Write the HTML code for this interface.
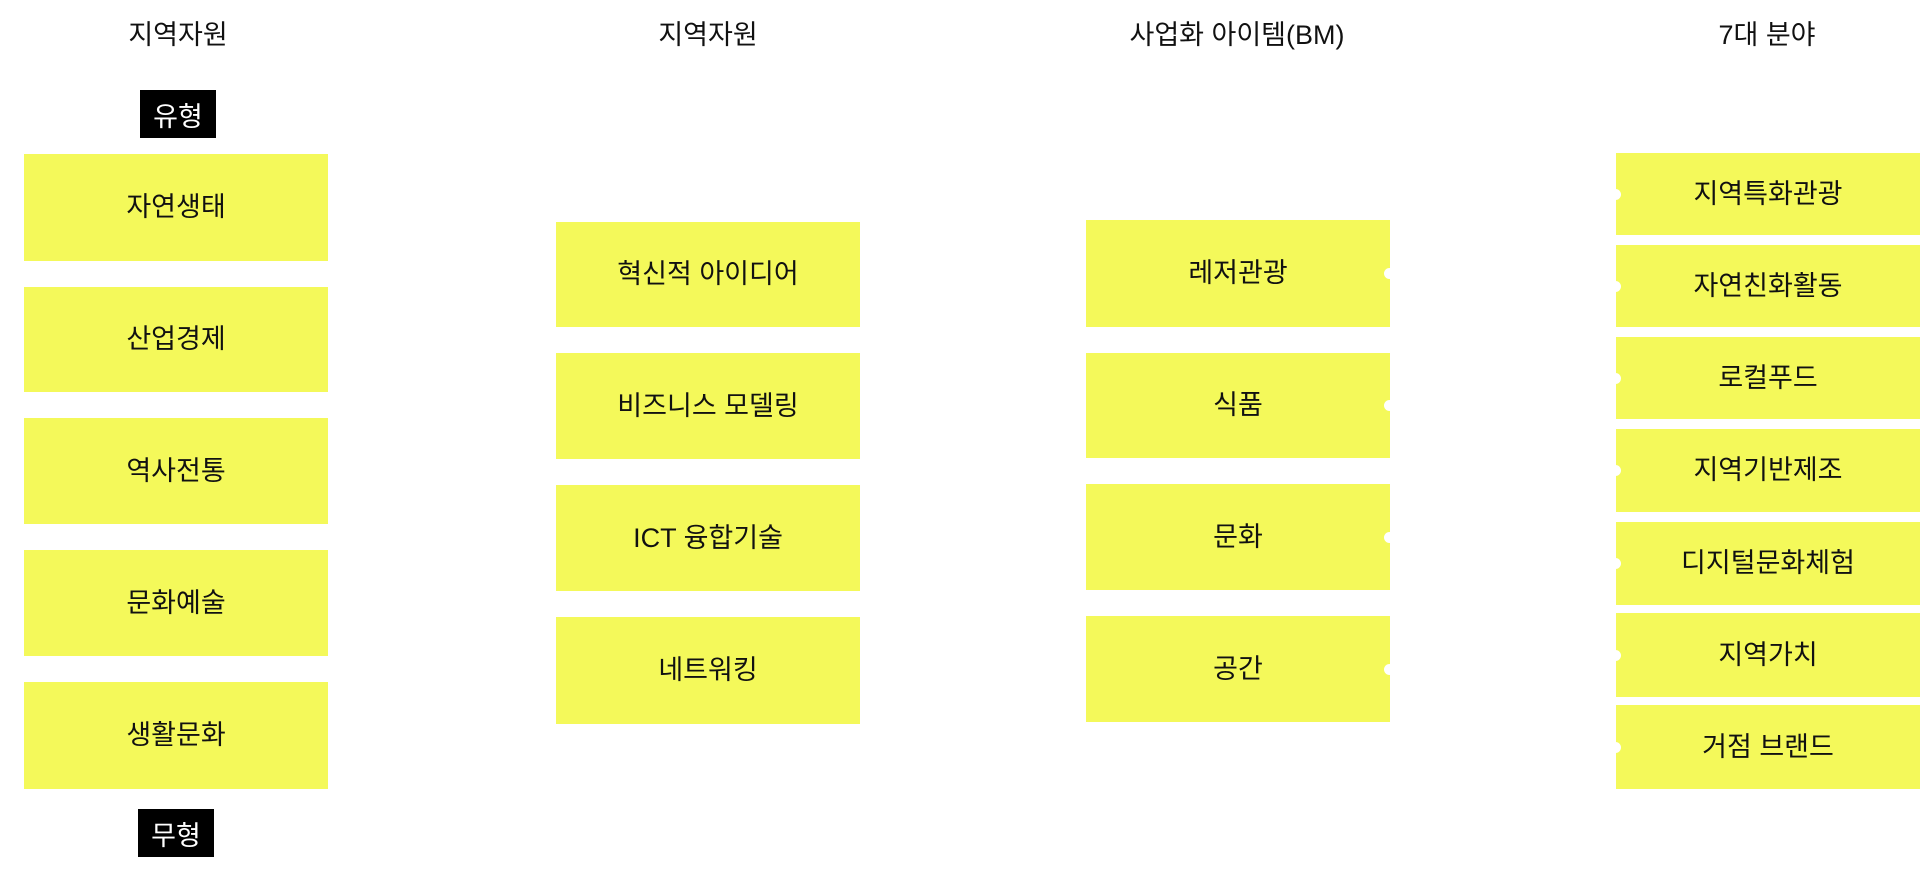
<!DOCTYPE html>
<html><head><meta charset="utf-8"><style>
body{margin:0;width:1920px;height:871px;background:#fff;position:relative;overflow:hidden;font-family:"Liberation Sans","Noto Sans CJK KR",sans-serif;font-weight:400;}
.h{position:absolute;top:13px;font-size:27px;color:#111;transform:translateX(-50%);white-space:nowrap;}
.b{position:absolute;background:#f4f95a;display:flex;align-items:center;justify-content:center;font-size:27px;color:#111;box-sizing:border-box;padding-bottom:6px;}
.k{position:absolute;background:#000;color:#fff;display:flex;align-items:center;justify-content:center;font-size:27px;}
.n{position:absolute;width:11px;height:11px;border-radius:50%;background:#fff;}
</style></head><body>
<div class="h" style="left:178px">지역자원</div>
<div class="h" style="left:708px">지역자원</div>
<div class="h" style="left:1237px">사업화 아이템(BM)</div>
<div class="h" style="left:1767px">7대 분야</div>
<div class="k" style="left:140px;top:90px;width:76px;height:48px">유형</div>
<div class="k" style="left:138px;top:809px;width:76px;height:48px">무형</div>

<div class="b" style="left:24px;top:154px;width:304px;height:107px">자연생태</div>
<div class="b" style="left:24px;top:287px;width:304px;height:105px">산업경제</div>
<div class="b" style="left:24px;top:418px;width:304px;height:106px">역사전통</div>
<div class="b" style="left:24px;top:550px;width:304px;height:106px">문화예술</div>
<div class="b" style="left:24px;top:682px;width:304px;height:107px">생활문화</div>

<div class="b" style="left:556px;top:222px;width:304px;height:105px">혁신적 아이디어</div>
<div class="b" style="left:556px;top:353px;width:304px;height:106px">비즈니스 모델링</div>
<div class="b" style="left:556px;top:485px;width:304px;height:106px">ICT 융합기술</div>
<div class="b" style="left:556px;top:617px;width:304px;height:107px">네트워킹</div>

<div class="b" style="left:1086px;top:220px;width:304px;height:107px">레저관광</div>
<div class="b" style="left:1086px;top:353px;width:304px;height:105px">식품</div>
<div class="b" style="left:1086px;top:484px;width:304px;height:106px">문화</div>
<div class="b" style="left:1086px;top:616px;width:304px;height:106px">공간</div>
<div class="n" style="left:1384px;top:268px"></div>
<div class="n" style="left:1384px;top:400px"></div>
<div class="n" style="left:1384px;top:532px"></div>
<div class="n" style="left:1384px;top:664px"></div>

<div class="b" style="left:1616px;top:153px;width:304px;height:82px">지역특화관광</div>
<div class="b" style="left:1616px;top:245px;width:304px;height:82px">자연친화활동</div>
<div class="b" style="left:1616px;top:337px;width:304px;height:82px">로컬푸드</div>
<div class="b" style="left:1616px;top:429px;width:304px;height:83px">지역기반제조</div>
<div class="b" style="left:1616px;top:522px;width:304px;height:83px">디지털문화체험</div>
<div class="b" style="left:1616px;top:613px;width:304px;height:84px">지역가치</div>
<div class="b" style="left:1616px;top:705px;width:304px;height:84px">거점 브랜드</div>
<div class="n" style="left:1610px;top:189px"></div>
<div class="n" style="left:1610px;top:281px"></div>
<div class="n" style="left:1610px;top:373px"></div>
<div class="n" style="left:1610px;top:465px"></div>
<div class="n" style="left:1610px;top:558px"></div>
<div class="n" style="left:1610px;top:650px"></div>
<div class="n" style="left:1610px;top:742px"></div>
</body></html>
